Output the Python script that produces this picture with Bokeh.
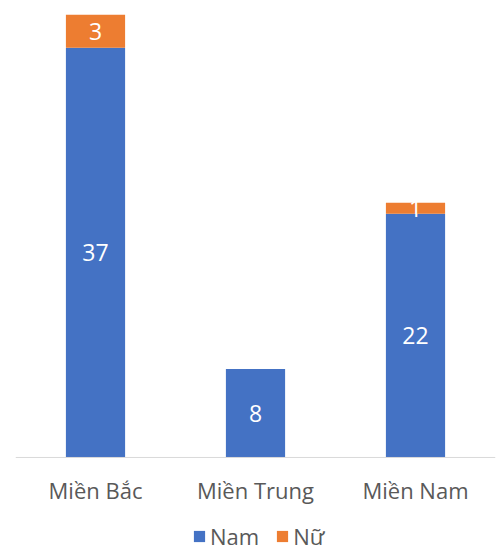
from bokeh.plotting import figure
from bokeh.models import ColumnDataSource, Range1d, FactorRange, LabelSet, Legend, LegendItem, Span
from bokeh.core.properties import value
from bokeh.embed import file_html
from bokeh.resources import INLINE

categories = ["Miền Bắc", "Miền Trung", "Miền Nam"]
nam = [37, 8, 22]
nu = [3, 0, 1]
series_names = ["Nam", "Nữ"]
colors = ["#4472C4", "#ED7D31"]

# frame covers the whole height; value 0 sits 94px above the bottom edge
p = figure(x_range=FactorRange(*categories, range_padding=0), y_range=Range1d(-8.49, 40),
           width=498, height=551, output_backend="svg", toolbar_location=None,
           min_border_left=15, min_border_right=3, min_border_top=14, min_border_bottom=0)

src = ColumnDataSource(dict(cat=categories, s0=nam, s1=nu))
r = p.vbar_stack(["s0", "s1"], x="cat", width=0.37, source=src, color=colors, line_color=None)

# value labels
lx, ly, lt = [], [], []
for c, a, b in zip(categories, nam, nu):
    if a > 0:
        lx.append(c); ly.append(a / 2); lt.append(str(a))
    if b > 0:
        lx.append(c); ly.append(a + b / 2); lt.append(str(b))
lsrc = ColumnDataSource(dict(x=lx, y=ly, t=lt))
p.add_layout(LabelSet(x="x", y="y", text="t", source=lsrc, text_align="center", text_baseline="middle",
                      text_color="white", text_font_size="23px", text_font=value("Open Sans")))

# category axis (baseline + category names)
p.add_layout(Span(location=0, dimension="width", line_color="#D9D9D9", line_width=1))
csrc = ColumnDataSource(dict(x=categories, y=[0] * len(categories), t=categories))
p.add_layout(LabelSet(x="x", y="y", text="t", source=csrc, text_align="center", text_baseline="middle",
                      y_offset=-33, text_color="#595959", text_font_size="22px",
                      text_font=value("Open Sans")))

p.xaxis.visible = False
p.yaxis.visible = False
p.xgrid.visible = False
p.ygrid.visible = False
p.outline_line_color = None

legend = Legend(items=[LegendItem(label=n, renderers=[rr]) for n, rr in zip(series_names, r)],
                orientation="horizontal", location=(177, 0), border_line_color=None,
                background_fill_alpha=0, label_text_font_size="22px", label_text_color="#595959",
                label_text_font="Open Sans", glyph_width=14, glyph_height=14, spacing=16,
                label_standoff=4, margin=0, padding=0)
p.add_layout(legend)

open("out.html", "w").write(file_html(p, INLINE))
